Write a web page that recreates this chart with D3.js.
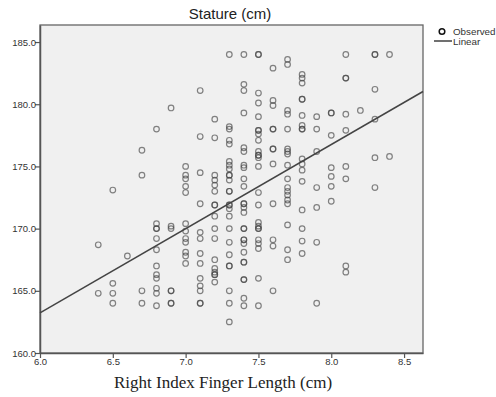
<!DOCTYPE html>
<html>
<head>
<meta charset="utf-8">
<script src="https://cdn.jsdelivr.net/npm/d3@7"></script>
<style>
  body { margin: 0; background: #fff; }
  svg { display: block; }
</style>
</head>
<body>
<figure id="scatter" style="margin:0"></figure>
<script>
// finger length (cm) for each observed point, paired with stature below
const fingerLength = [
  6.4, 6.4,
  6.5, 6.5, 6.5, 6.5,
  6.6,
  6.7, 6.7, 6.7, 6.7,
  6.8, 6.8, 6.8, 6.8, 6.8, 6.8, 6.8, 6.8, 6.8, 6.8, 6.8, 6.8,
  6.9, 6.9, 6.9, 6.9, 6.9, 6.9, 6.9,
  7.0, 7.0, 7.0, 7.0, 7.0, 7.0, 7.0, 7.0, 7.0, 7.0, 7.0, 7.0,
  7.1, 7.1, 7.1, 7.1, 7.1, 7.1, 7.1, 7.1, 7.1, 7.1, 7.1, 7.1, 7.1,
  7.2, 7.2, 7.2, 7.2, 7.2, 7.2, 7.2, 7.2, 7.2, 7.2, 7.2, 7.2, 7.2, 7.2, 7.2, 7.2, 7.2,
  7.3, 7.3, 7.3, 7.3, 7.3, 7.3, 7.3, 7.3, 7.3, 7.3, 7.3, 7.3, 7.3, 7.3, 7.3, 7.3, 7.3, 7.3, 7.3, 7.3, 7.3, 7.3, 7.3, 7.3, 7.3,
  7.4, 7.4, 7.4, 7.4, 7.4, 7.4, 7.4, 7.4, 7.4, 7.4, 7.4, 7.4, 7.4, 7.4, 7.4, 7.4, 7.4, 7.4, 7.4, 7.4, 7.4, 7.4, 7.4, 7.4, 7.4, 7.4,
  7.5, 7.5, 7.5, 7.5, 7.5, 7.5, 7.5, 7.5, 7.5, 7.5, 7.5, 7.5, 7.5, 7.5, 7.5, 7.5, 7.5, 7.5, 7.5, 7.5, 7.5, 7.5, 7.5, 7.5, 7.5,
  7.6, 7.6, 7.6, 7.6, 7.6, 7.6, 7.6, 7.6, 7.6, 7.6, 7.6, 7.6,
  7.7, 7.7, 7.7, 7.7, 7.7, 7.7, 7.7, 7.7, 7.7, 7.7, 7.7, 7.7, 7.7, 7.7, 7.7, 7.7, 7.7, 7.7,
  7.8, 7.8, 7.8, 7.8, 7.8, 7.8, 7.8, 7.8, 7.8, 7.8, 7.8, 7.8, 7.8, 7.8, 7.8, 7.8, 7.8,
  7.9, 7.9, 7.9, 7.9, 7.9, 7.9, 7.9,
  8.0, 8.0, 8.0, 8.0, 8.0, 8.0, 8.0,
  8.1, 8.1, 8.1, 8.1, 8.1, 8.1, 8.1, 8.1, 8.1,
  8.2,
  8.3, 8.3, 8.3, 8.3, 8.3, 8.3,
  8.4, 8.4
];

const stature = [
  168.7, 164.8,
  173.1, 165.6, 164.8, 164.0,
  167.8,
  176.3, 174.3, 165.0, 164.0,
  178.0, 170.4, 170.0, 170.0, 169.2, 168.3, 167.0, 166.3, 166.0, 165.2, 164.8, 163.8,
  179.7, 170.2, 170.0, 165.0, 165.0, 164.0, 164.0,
  175.0, 174.3, 174.0, 173.4, 172.9, 170.4, 169.8, 169.2, 168.9, 168.1, 167.8, 167.2,
  181.1, 177.4, 174.5, 172.0, 169.7, 169.2, 168.0, 167.2, 166.0, 165.4, 165.0, 164.0, 164.0,
  178.8, 177.3, 174.3, 173.9, 173.5, 173.0, 171.9, 171.9, 171.0, 170.0, 169.2, 167.5, 166.8, 166.5, 166.3, 166.3, 165.7,
  184.0, 178.2, 178.0, 177.1, 176.8, 175.4, 175.1, 174.8, 174.3, 174.3, 173.9, 173.0, 173.0, 171.9, 171.9, 171.6, 171.0, 170.0, 168.9, 167.9, 167.0, 167.0, 165.0, 164.0, 162.5,
  184.0, 181.6, 181.1, 179.3, 176.5, 176.2, 175.1, 174.9, 174.0, 173.4, 172.0, 172.0, 171.7, 171.3, 170.0, 170.0, 169.1, 169.1, 168.8, 168.1, 167.3, 167.3, 165.9, 165.9, 164.4, 163.8,
  184.0, 184.0, 180.9, 180.1, 179.0, 177.9, 177.9, 177.6, 177.1, 176.2, 175.9, 175.9, 175.7, 175.0, 172.9, 171.9, 170.5, 170.2, 170.0, 170.0, 169.1, 168.8, 168.4, 166.0, 163.8,
  182.9, 180.3, 179.9, 178.0, 178.0, 176.4, 176.4, 175.2, 172.0, 169.1, 168.6, 165.0,
  183.6, 183.2, 179.5, 179.2, 178.0, 176.4, 176.2, 176.0, 175.1, 174.0, 173.3, 173.0, 172.7, 172.3, 172.0, 170.3, 168.3, 167.5,
  182.4, 182.1, 181.7, 180.4, 180.4, 179.1, 178.3, 178.0, 178.0, 175.6, 175.2, 174.7, 173.8, 171.5, 170.0, 169.0, 168.0,
  179.0, 178.0, 176.2, 173.3, 171.7, 168.9, 164.0,
  179.3, 179.3, 177.5, 174.9, 174.2, 173.4, 172.2,
  184.0, 182.1, 182.1, 179.2, 177.9, 175.0, 174.0, 167.0, 166.5,
  179.5,
  184.0, 184.0, 181.2, 178.8, 175.7, 173.3,
  184.0, 175.8
];

const xTicks = [6.0, 6.5, 7.0, 7.5, 8.0, 8.5];
const yTicks = [160, 165, 170, 175, 180, 185];

// linear fit as drawn on the chart
const fitIntercept = 122.6;
const fitSlope = 6.77;

const width = 496;
const height = 397;
const margin = ({ top: 25, right: 73, bottom: 44, left: 40 });

const svg = d3.select("figure#scatter")
  .append("svg")
  .attr("width", width)
  .attr("height", height)
  .attr("viewBox", "0 0 " + width + " " + height);

const xScale = d3.scaleLinear()
  .domain([6.0, 8.63])
  .range([margin.left, width - margin.right]);

const yScale = d3.scaleLinear()
  .domain([160, 186.37])
  .range([height - margin.bottom, margin.top]);

// plot background
svg.append("rect")
  .attr("x", margin.left)
  .attr("y", margin.top)
  .attr("width", width - margin.left - margin.right)
  .attr("height", height - margin.top - margin.bottom)
  .attr("fill", "#f0f0f0")
  .attr("stroke", "#666")
  .attr("stroke-width", 1.3);

const xAxis = d3.axisBottom(xScale)
  .tickValues(xTicks)
  .tickFormat(d3.format(".1f"))
  .tickSize(5)
  .tickSizeOuter(0);

const yAxis = d3.axisLeft(yScale)
  .tickValues(yTicks)
  .tickFormat(d3.format(".1f"))
  .tickSize(5)
  .tickSizeOuter(0);

const gx = svg.append("g")
  .attr("class", "x-axis")
  .attr("transform", "translate(0," + (height - margin.bottom) + ")")
  .call(xAxis);

const gy = svg.append("g")
  .attr("class", "y-axis")
  .attr("transform", "translate(" + margin.left + ",0)")
  .call(yAxis);

[gx, gy].forEach(g => {
  g.select(".domain").attr("stroke", "#555").attr("stroke-width", 1.5);
  g.selectAll(".tick line").attr("stroke", "#555").attr("stroke-width", 1.2);
  g.selectAll(".tick text")
    .attr("fill", "#333")
    .style("font-family", "'Liberation Sans', Arial, sans-serif")
    .style("font-size", "9.5px");
});
gx.selectAll(".tick text").attr("dy", "0.9em").attr("y", 3);
gy.selectAll(".tick text").attr("x", -4);

// observed points
svg.append("g")
  .selectAll("circle")
  .data(fingerLength.map((f, i) => ({ f: f, s: stature[i] })))
  .join("circle")
  .attr("cx", d => xScale(d.f))
  .attr("cy", d => yScale(d.s))
  .attr("r", 2.8)
  .attr("fill", "none")
  .attr("stroke", "#444")
  .attr("stroke-opacity", 0.65)
  .attr("stroke-width", 1.2);

// linear fit line across the plot
const xDom = xScale.domain();
svg.append("line")
  .attr("x1", xScale(xDom[0]))
  .attr("y1", yScale(fitIntercept + fitSlope * xDom[0]))
  .attr("x2", xScale(xDom[1]))
  .attr("y2", yScale(fitIntercept + fitSlope * xDom[1]))
  .attr("stroke", "#444")
  .attr("stroke-width", 1.5);

// title
svg.append("text")
  .attr("x", 230)
  .attr("y", 19)
  .attr("text-anchor", "middle")
  .attr("fill", "#222")
  .style("font-family", "'Liberation Sans', Arial, sans-serif")
  .style("font-size", "15px")
  .text("Stature (cm)");

// x axis title
svg.append("text")
  .attr("x", 223)
  .attr("y", 388)
  .attr("text-anchor", "middle")
  .attr("fill", "#222")
  .style("font-family", "'Liberation Serif', 'Times New Roman', serif")
  .style("font-size", "17px")
  .text("Right Index Finger Length (cm)");

// legend
const legend = svg.append("g").attr("transform", "translate(434,0)");
legend.append("circle")
  .attr("cx", 8)
  .attr("cy", 31.5)
  .attr("r", 2.8)
  .attr("fill", "none")
  .attr("stroke", "#111")
  .attr("stroke-width", 1.5);
legend.append("text")
  .attr("x", 19)
  .attr("y", 35)
  .attr("fill", "#333")
  .style("font-family", "'Liberation Sans', Arial, sans-serif")
  .style("font-size", "9.8px")
  .text("Observed");
legend.append("line")
  .attr("x1", 0)
  .attr("x2", 18)
  .attr("y1", 41)
  .attr("y2", 41)
  .attr("stroke", "#222")
  .attr("stroke-width", 1.3);
legend.append("text")
  .attr("x", 19)
  .attr("y", 44.5)
  .attr("fill", "#333")
  .style("font-family", "'Liberation Sans', Arial, sans-serif")
  .style("font-size", "9.8px")
  .text("Linear");
</script>
</body>
</html>
